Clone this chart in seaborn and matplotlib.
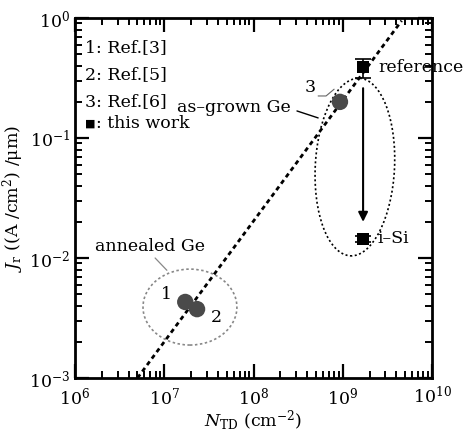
import numpy as np
import pandas as pd
import matplotlib
matplotlib.use("Agg")
import matplotlib.pyplot as plt
import seaborn as sns
from matplotlib.patches import Ellipse

# ---- data ----
lit_labels = ["1", "2", "3"]
lit_N = [1.72e7, 2.33e7, 9.3e8]
lit_J = [4.3e-3, 3.75e-3, 0.20]

work_labels = ["reference", "i–Si"]
work_N = [1.69e9, 1.69e9]
work_J = [0.39, 0.0144]
work_err_lo = [0.074, 0.0009]
work_err_hi = [0.065, 0.0009]

fit_N = [10**6.70, 10**9.66]
fit_J = [1e-3, 0.95]

sns.set_theme(style="ticks")
plt.rcParams["font.family"] = ["DejaVu Serif"]
plt.rcParams["mathtext.fontset"] = "dejavuserif"
plt.rcParams["text.color"] = "black"
plt.rcParams["axes.labelcolor"] = "black"

fig = plt.figure(figsize=(4.66, 4.32), dpi=100)
ax = fig.add_axes([75/466, 54/432, 357/466, 360/432])
ax.set_xscale("log")
ax.set_yscale("log")
ax.set_xlim(1e6, 1e10)
ax.set_ylim(1e-3, 1e0)

fit_df = pd.DataFrame({"N": fit_N, "J": fit_J})
sns.lineplot(data=fit_df, x="N", y="J", ax=ax, color="black", lw=2.0,
             linestyle=(0, (1.6, 1.3)), zorder=2)

lit_df = pd.DataFrame({"N": lit_N, "J": lit_J, "lab": lit_labels})
sns.scatterplot(data=lit_df, x="N", y="J", ax=ax, color="#4a4a4a", s=140,
                edgecolor="none", marker="o", zorder=4, legend=False)

work_df = pd.DataFrame({"N": work_N, "J": work_J})
ax.errorbar(work_N, work_J, yerr=[work_err_lo, work_err_hi], fmt="none",
            ecolor="black", elinewidth=1.2, capsize=6, capthick=1.2, zorder=3)
sns.scatterplot(data=work_df, x="N", y="J", ax=ax, color="black", s=80,
                edgecolor="none", marker="s", zorder=5, legend=False)

# arrow
ax.annotate("", xy=(1.69e9, 0.02), xytext=(1.69e9, 0.26),
            arrowprops=dict(arrowstyle="-|>", color="black", lw=1.5,
                            mutation_scale=14, shrinkA=0, shrinkB=0), zorder=3)

# ellipses (axes fraction)
ax.add_patch(Ellipse((0.322, 0.197), 0.263, 0.211, transform=ax.transAxes,
                     fill=False, edgecolor="#888888", lw=1.2,
                     linestyle=(0, (1.5, 1.5)), zorder=1))
ax.add_patch(Ellipse((0.784, 0.586), 0.222, 0.494, angle=-3, transform=ax.transAxes,
                     fill=False, edgecolor="black", lw=1.2,
                     linestyle=(0, (1.2, 1.5)), zorder=1))

fs = 12.5
# legend-like text
for i, t in enumerate(["1: Ref.[3]", "2: Ref.[5]", "3: Ref.[6]"]):
    ax.text(0.028, 0.917 - i * 0.074, t, transform=ax.transAxes, fontsize=fs,
            va="center", ha="left")
ax.text(0.028, 0.706, "■", transform=ax.transAxes, fontsize=8,
        va="center", ha="left")
ax.text(0.058, 0.706, ": this work", transform=ax.transAxes, fontsize=fs,
        va="center", ha="left")

# point labels
ax.text(1.07e7, 5.0e-3, "1", fontsize=fs, ha="center", va="center")
ax.text(3.8e7, 3.2e-3, "2", fontsize=fs, ha="center", va="center")
ax.text(4.3e8, 0.265, "3", fontsize=fs, ha="center", va="center")
ax.plot([5.3e8, 6.5e8, 8.0e8], [0.224, 0.224, 0.255], color="#666666", lw=0.8)
ax.text(1.68e6, 1.24e-2, "annealed Ge", fontsize=fs, ha="left", va="center")
ax.plot([7.9e6, 1.07e7], [1.0e-2, 7.9e-3], color="#888888", lw=0.9)
ax.text(2.6e8, 0.18, "as–grown Ge", fontsize=fs, ha="right", va="center")
ax.plot([3.07e8, 5.3e8], [0.168, 0.147], color="black", lw=1.0)
ax.text(2.5e9, 0.39, "reference", fontsize=fs, ha="left", va="center")
ax.text(2.42e9, 0.0144, "i–Si", fontsize=fs, ha="left", va="center")

# axes styling
for sp in ax.spines.values():
    sp.set_linewidth(2.0)
    sp.set_visible(True)
    sp.set_color("black")
ax.tick_params(which="both", direction="in", top=True, right=True,
               labelsize=fs, colors="black")
ax.tick_params(which="major", length=10, width=1.6)
ax.tick_params(which="minor", length=5, width=1.4)
ax.tick_params(axis="x", pad=6)
ax.set_xticks([1e6, 1e7, 1e8, 1e9, 1e10])
ax.set_yticks([1e-3, 1e-2, 1e-1, 1e0])

ax.set_xlabel(r"$N_{\rm TD}$ (cm$^{-2}$)", fontsize=fs, labelpad=0)
ax.set_ylabel(r"$J_{\rm r}$ ((A /cm$^2$) /μm)", fontsize=fs, labelpad=2)

fig.savefig("out.png", dpi=100)
